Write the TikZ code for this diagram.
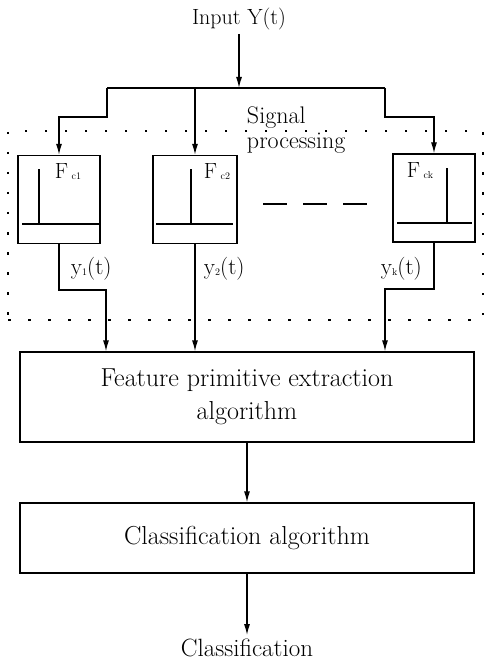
\documentclass[tikz,border=0pt]{standalone}
\usepackage{tikz}
\usetikzlibrary{arrows.meta}

\newcommand{\lowsub}[1]{\raisebox{-1pt}{\fontsize{10}{10}\selectfont #1}}

\begin{document}
\begin{tikzpicture}[x=1pt,y=-1pt,line width=1.3pt,>={Latex[length=11pt,width=6pt]},
    filt/.style={draw,minimum width=82pt,minimum height=88pt,inner sep=0pt},
    blk/.style={draw,minimum width=454pt,align=center,font=\fontsize{26}{33}\selectfont},
    lbl/.style={font=\fontsize{23}{25}\selectfont},
    sigbox/.style={draw,dash pattern=on 2.5pt off 17.5pt,line width=1.8pt,minimum width=475pt,minimum height=189pt}]
    \useasboundingbox (0,0) rectangle (484,660);

    \node[sigbox] (sigproc) at (245.5,225.5) {};
    \node[lbl,font=\fontsize{24}{25}\selectfont,align=left,anchor=west] (sigtext) at (243,130) {Signal\\processing};

    \node[lbl,font=\fontsize{22}{24}\selectfont] (input) at (239,19) {Input Y(t)};
    \coordinate (busC) at (239,88);
    \coordinate (busL) at (107,88);
    \coordinate (busR) at (385,88);
    \coordinate (stepL) at (107,117);
    \coordinate (stepR) at (385,117);

    \node[filt] (fc1) at (59,199.5) {};
    \node[filt,minimum width=84pt] (fc2) at (195,199.5) {};
    \node[filt] (fck) at (434,198) {};
    \node[lbl,font=\fontsize{22}{24}\selectfont] (fc1name) at (68,172) {F\,\lowsub{c1}};
    \node[lbl,font=\fontsize{22}{24}\selectfont] (fc2name) at (217,172) {F\,\lowsub{c2}};
    \node[lbl,font=\fontsize{22}{24}\selectfont] (fckname) at (420,171) {F\,\lowsub{ck}};

    \draw (22,224) -- (99,224) (39,224) -- (39,169);
    \draw (156,224) -- (233,224) (191,224) -- (191,169);
    \draw (397,223) -- (472,223) (447,223) -- (447,168);
    \draw[dash pattern=on 24pt off 16pt] (263,204) -- (368,204);

    \node[blk,minimum height=90pt] (feature) at (247,397) {Feature primitive extraction\\algorithm};
    \node[blk,minimum height=70pt] (classalg) at (247,538) {Classification algorithm};
    \node[lbl,font=\fontsize{25}{26}\selectfont] (result) at (247,648) {Classification};

    \draw[->] (input) -- (busC);
    \draw (busL) -- (busR);
    \draw[->] (busL) -- (stepL) -| (fc1.north);
    \draw[->] (fc2.north |- busL) -- (fc2.north);
    \draw[->] (busR) -- (stepR) -| (fck.north);

    \coordinate (jointL) at (106,290);
    \coordinate (jointR) at (385,289);
    \draw[->] (fc1.south) |- (jointL) -- (jointL |- feature.north);
    \draw[->] (fc2.south) -- (fc2.south |- feature.north);
    \draw[->] (fck.south) |- (jointR) -- (jointR |- feature.north);
    \node[lbl,anchor=west] (y1) at (67,269) {y\lowsub{1}(t)};
    \node[lbl,anchor=west] (y2) at (200,269) {y\lowsub{2}(t)};
    \node[lbl,anchor=west] (yk) at (377,269) {y\lowsub{k}(t)};

    \draw[->] (feature) -- (classalg);
    \draw[->] (classalg) -- (result);
\end{tikzpicture}
\end{document}
